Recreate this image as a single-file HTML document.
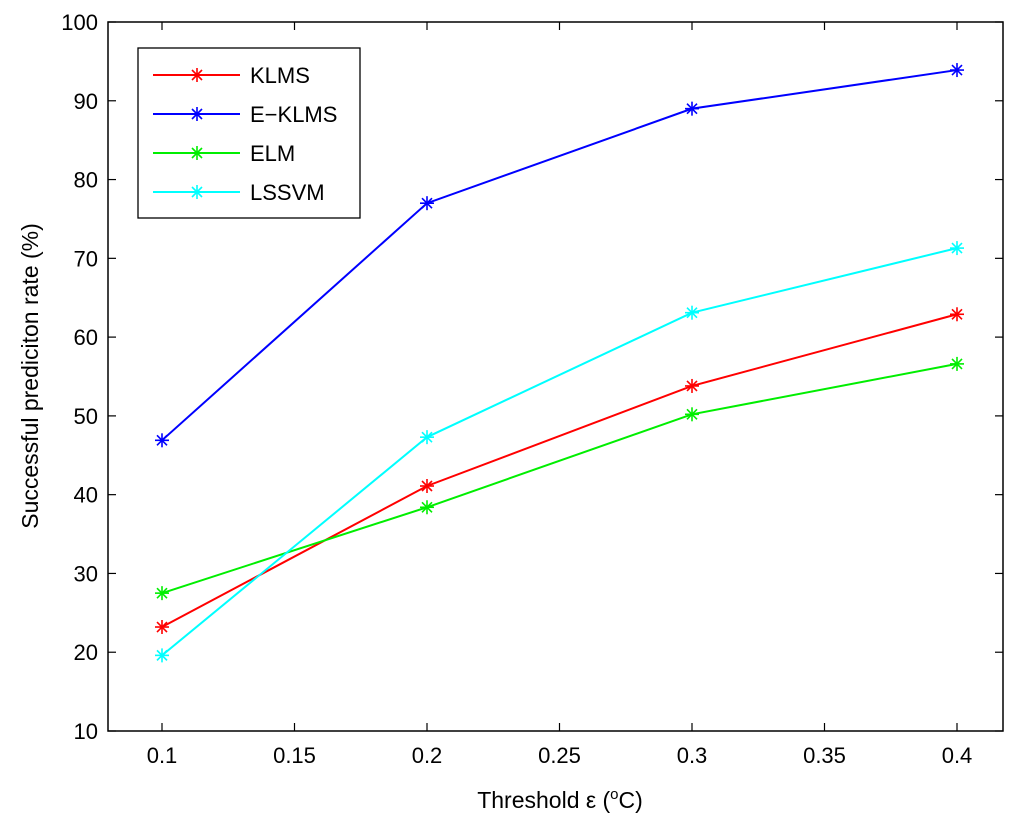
<!DOCTYPE html>
<html><head><meta charset="utf-8"><style>
body{margin:0;background:#fff;}
svg{display:block;font-family:"Liberation Sans",Arial,sans-serif;}
</style></head><body>
<svg id="chart" width="1024" height="825" viewBox="0 0 1024 825">
<rect x="0" y="0" width="1024" height="825" fill="#fff"/>
<g id="axes"></g>
<g id="series"></g>
<g id="legend"></g>
</svg>
<script>
const categories=[0.1,0.2,0.3,0.4];
const xTicks=[0.1,0.15,0.2,0.25,0.3,0.35,0.4];
const xTickLabels=["0.1","0.15","0.2","0.25","0.3","0.35","0.4"];
const yTicks=[10,20,30,40,50,60,70,80,90,100];
const seriesNames=["KLMS","E\u2212KLMS","ELM","LSSVM"];
const seriesColors=["#ff0000","#0000ff","#00ee00","#00ffff"];
const klms=[23.2,41.1,53.8,62.9];
const eklms=[46.9,77.0,89.0,93.9];
const elm=[27.5,38.4,50.2,56.6];
const lssvm=[19.6,47.3,63.1,71.3];
const allSeries=[klms,eklms,elm,lssvm];

const L=108,R=1003,T=22,B=731;
const xs=v=>162+(v-0.1)*2650;
const ys=v=>B-(v-10)*(B-T)/90;
const NS="http://www.w3.org/2000/svg";
function mk(tag,attrs,parent){const e=document.createElementNS(NS,tag);for(const k in attrs)e.setAttribute(k,attrs[k]);parent.appendChild(e);return e;}
const ax=document.getElementById('axes'),sg=document.getElementById('series'),lg=document.getElementById('legend');

const box=mk('rect',{x:L,y:T,width:R-L,height:B-T,fill:'none',stroke:'#000','stroke-width':1.5},ax);



xTicks.forEach((v,i)=>{
  const x=xs(v);
  mk('line',{x1:x,y1:B,x2:x,y2:B-8,stroke:'#000','stroke-width':1.2},ax);
  mk('line',{x1:x,y1:T,x2:x,y2:T+8,stroke:'#000','stroke-width':1.2},ax);
  const t=mk('text',{x:x,y:B+32,'text-anchor':'middle','font-size':22},ax);
  t.textContent=xTickLabels[i];
  
  
});
yTicks.forEach(v=>{
  const y=ys(v);
  mk('line',{x1:L,y1:y,x2:L+8,y2:y,stroke:'#000','stroke-width':1.2},ax);
  mk('line',{x1:R,y1:y,x2:R-8,y2:y,stroke:'#000','stroke-width':1.2},ax);
  const t=mk('text',{x:L-10,y:y+8,'text-anchor':'end','font-size':22},ax);
  t.textContent=String(v);
  
  
});
const xl=mk('text',{x:560,y:808,'text-anchor':'middle','font-size':23},ax);
xl.innerHTML='Threshold \u03b5 (<tspan dy="-9" font-size="15">o</tspan><tspan dy="9">C)</tspan>';


const yl=mk('text',{x:0,y:0,'text-anchor':'middle','font-size':23,transform:'translate(38,376) rotate(-90)'},ax);
yl.textContent='Successful prediciton rate (%)';



function star(g,x,y,c){
  const r=7;
  mk('line',{x1:x-r,y1:y,x2:x+r,y2:y,stroke:c,'stroke-width':1.6},g);
  mk('line',{x1:x,y1:y-r,x2:x,y2:y+r,stroke:c,'stroke-width':1.6},g);
  mk('line',{x1:x-5,y1:y-5,x2:x+5,y2:y+5,stroke:c,'stroke-width':1.6},g);
  mk('line',{x1:x-5,y1:y+5,x2:x+5,y2:y-5,stroke:c,'stroke-width':1.6},g);
}
allSeries.forEach((d,si)=>{
  const g=mk('g',{},sg);
  
  
  const pts=d.map((v,i)=>xs(categories[i])+','+ys(v)).join(' ');
  mk('polyline',{points:pts,fill:'none',stroke:seriesColors[si],'stroke-width':2},g);
  d.forEach((v,i)=>star(g,xs(categories[i]),ys(v),seriesColors[si]));
});

const lb=mk('rect',{x:138,y:48,width:222,height:170,fill:'#fff',stroke:'#000','stroke-width':1.3},lg);


const ly=[75,114,153,192];
seriesNames.forEach((n,i)=>{
  const g=mk('g',{},lg);
  
  
  mk('line',{x1:153,y1:ly[i],x2:240,y2:ly[i],stroke:seriesColors[i],'stroke-width':2},g);
  star(g,197,ly[i],seriesColors[i]);
  const t=mk('text',{x:250,y:ly[i]+8,'font-size':22},g);
  t.textContent=n;
});
</script>
</body></html>
